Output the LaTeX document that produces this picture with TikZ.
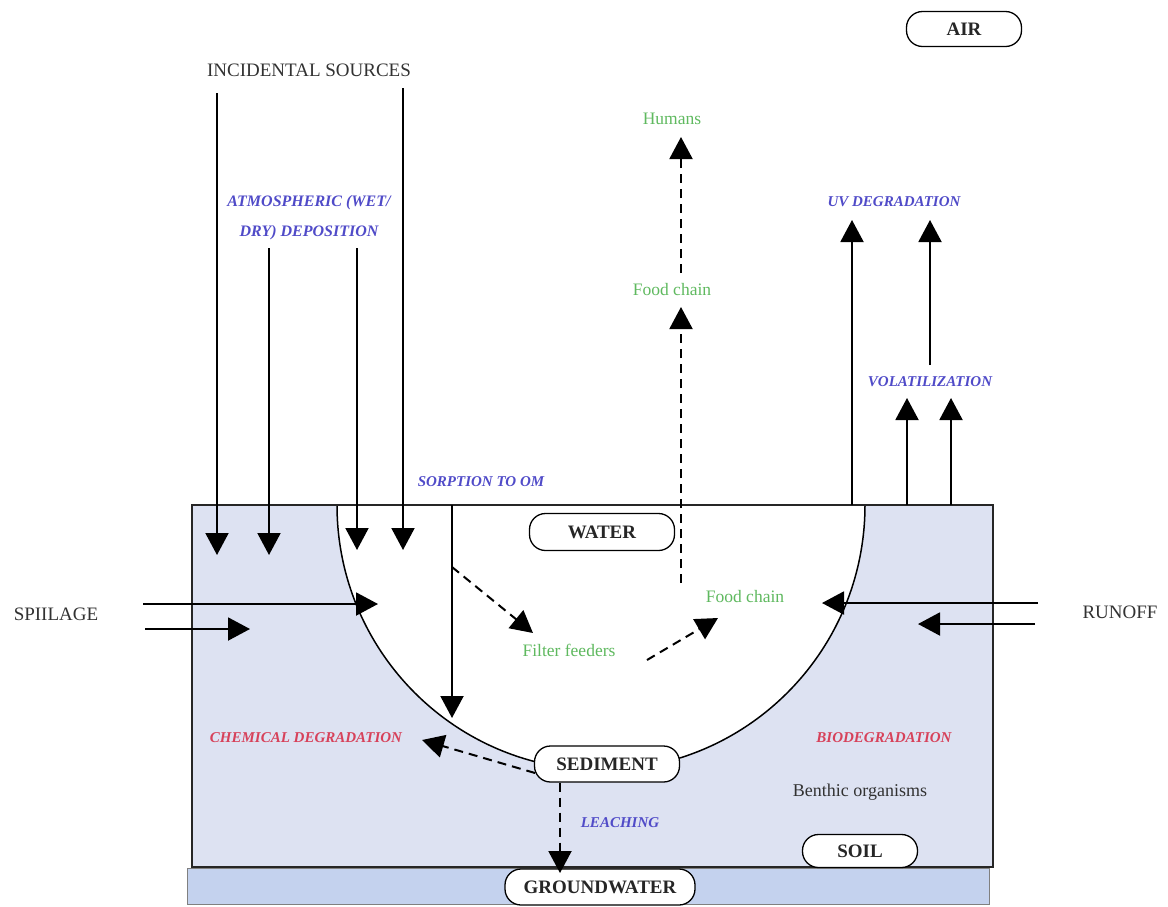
\documentclass[tikz,border=0pt]{standalone}
\usepackage{fontspec}
\setmainfont{Liberation Serif}
\usetikzlibrary{arrows.meta}
\definecolor{soilc}{RGB}{221,226,242}
\definecolor{gwc}{RGB}{196,210,238}
\definecolor{bluet}{RGB}{80,75,200}
\definecolor{redt}{RGB}{215,65,90}
\definecolor{greent}{RGB}{95,185,95}
\definecolor{grayt}{RGB}{50,50,50}
\tikzset{
  arr/.style={line width=2pt, -{Triangle[width=23pt,length=22pt]}},
  darr/.style={arr, dash pattern=on 9pt off 6pt},
  box/.style={draw, line width=1.3pt, fill=white, rounded corners=16pt, inner sep=0pt,
     font=\bfseries\fontsize{19}{22}\selectfont, text=black!85},
  bluelbl/.style={inner sep=0pt, text=bluet, font=\bfseries\itshape\fontsize{15}{18}\selectfont},
  redlbl/.style={inner sep=0pt, text=redt, font=\bfseries\itshape\fontsize{15}{18}\selectfont},
  greenlbl/.style={inner sep=0pt, text=greent, font=\fontsize{17.5}{20}\selectfont},
  plainlbl/.style={inner sep=0pt, text=grayt, font=\fontsize{19}{22}\selectfont},
}
\begin{document}
\begin{tikzpicture}[x=1pt,y=-1pt]
\useasboundingbox (0,0) rectangle (1168,906);
% soil, groundwater, bowl
\fill[soilc] (192,505) rectangle (993,867);
\draw[gray, line width=1pt, fill=gwc] (187,868) rectangle (989,904);
\fill[white] (337,505) arc[start angle=180, end angle=0, x radius=264, y radius=265] -- cycle;
\draw[line width=1.5pt] (337,505) arc[start angle=180, end angle=0, x radius=264, y radius=265];
\draw[line width=1.8pt, black!85] (192,505) rectangle (993,867);

% labelled boxes
\node[box, minimum width=115pt, minimum height=35pt] (air) at (964,29) {AIR};
\node[box, minimum width=145pt, minimum height=37pt] (water) at (602,532) {WATER};
\node[box, minimum width=145pt, minimum height=36pt] (sed) at (607,764) {SEDIMENT};
\node[box, minimum width=115pt, minimum height=33pt] (soil) at (860,851) {SOIL};

% text labels
\node[plainlbl] (inc) at (309,70) {INCIDENTAL SOURCES};
\node[bluelbl, font=\bfseries\itshape\fontsize{16}{18}\selectfont, align=center] (atm) at (309,218) {ATMOSPHERIC (WET/\\[12pt]DRY) DEPOSITION};
\node[bluelbl] (sorp) at (481,482) {SORPTION TO OM};
\node[greenlbl] (hum) at (672,119) {Humans};
\node[greenlbl] (fc1) at (672,290) {Food chain};
\node[greenlbl] (fc2) at (745,597) {Food chain};
\node[greenlbl] (filt) at (569,650) {Filter feeders};
\node[bluelbl] (uv) at (894,202) {UV DEGRADATION};
\node[bluelbl] (vol) at (930,382) {VOLATILIZATION};
\node[redlbl] (chem) at (306,738) {CHEMICAL DEGRADATION};
\node[redlbl] (bio) at (884,738) {BIODEGRADATION};
\node[plainlbl, font=\fontsize{18}{21}\selectfont] (benth) at (860,792) {Benthic organisms};
\node[bluelbl] (leach) at (620,823) {LEACHING};
\node[plainlbl] (spill) at (56,614) {SPIILAGE};
\node[plainlbl] (runoff) at (1120,612) {RUNOFF};

% coordinates of free ends
\coordinate (i1s) at (217,93);  \coordinate (i1e) at (217,555);
\coordinate (i2s) at (403,88);  \coordinate (i2e) at (403,550);
\coordinate (a1s) at (269,248); \coordinate (a1e) at (269,555);
\coordinate (a2s) at (357,248); \coordinate (a2e) at (357,550);
\coordinate (s1s) at (452,505); \coordinate (s1e) at (452,718);
\coordinate (sp1s) at (143,604); \coordinate (sp1e) at (378,604);
\coordinate (sp2s) at (145,629); \coordinate (sp2e) at (250,629);
\coordinate (r1s) at (1038,603); \coordinate (r1e) at (822,603);
\coordinate (r2s) at (1035,624); \coordinate (r2e) at (918,624);
\coordinate (uvs) at (852,505); \coordinate (uve) at (852,220);
\coordinate (vus) at (930,365); \coordinate (vue) at (930,220);
\coordinate (v1s) at (907,505); \coordinate (v1e) at (907,398);
\coordinate (v2s) at (951,505); \coordinate (v2e) at (951,398);
\coordinate (f1s) at (681,583); \coordinate (f1e) at (681,307);
\coordinate (f2s) at (681,273); \coordinate (f2e) at (681,137);
\coordinate (ffs) at (452,567); \coordinate (ffe) at (533,633);
\coordinate (fcs) at (647,660); \coordinate (fce) at (718,618);
\coordinate (chs) at (535,773); \coordinate (che) at (422,740);
\coordinate (lx) at (560,0); \coordinate (lye) at (0,873);

% solid arrows
\draw[arr] (i1s) -- (i1e);
\draw[arr] (i2s) -- (i2e);
\draw[arr] (a1s) -- (a1e);
\draw[arr] (a2s) -- (a2e);
\draw[arr] (s1s) -- (s1e);
\draw[arr] (sp1s) -- (sp1e);
\draw[arr] (sp2s) -- (sp2e);
\draw[arr] (r1s) -- (r1e);
\draw[arr] (r2s) -- (r2e);
\draw[arr] (uvs) -- (uve);
\draw[arr] (vus) -- (vue);
\draw[arr] (v1s) -- (v1e);
\draw[arr] (v2s) -- (v2e);
% dashed arrows
\draw[darr] (f1s) -- (f1e);
\draw[darr] (f2s) -- (f2e);
\draw[darr] (ffs) -- (ffe);
\draw[darr] (fcs) -- (fce);
\draw[darr] (chs) -- (che);

% groundwater node and leaching arrow
\node[box, minimum width=190pt, minimum height=36pt] (gw) at (600,887) {GROUNDWATER};
\draw[darr] (sed.south -| lx) -- (lx |- lye);
\end{tikzpicture}
\end{document}
